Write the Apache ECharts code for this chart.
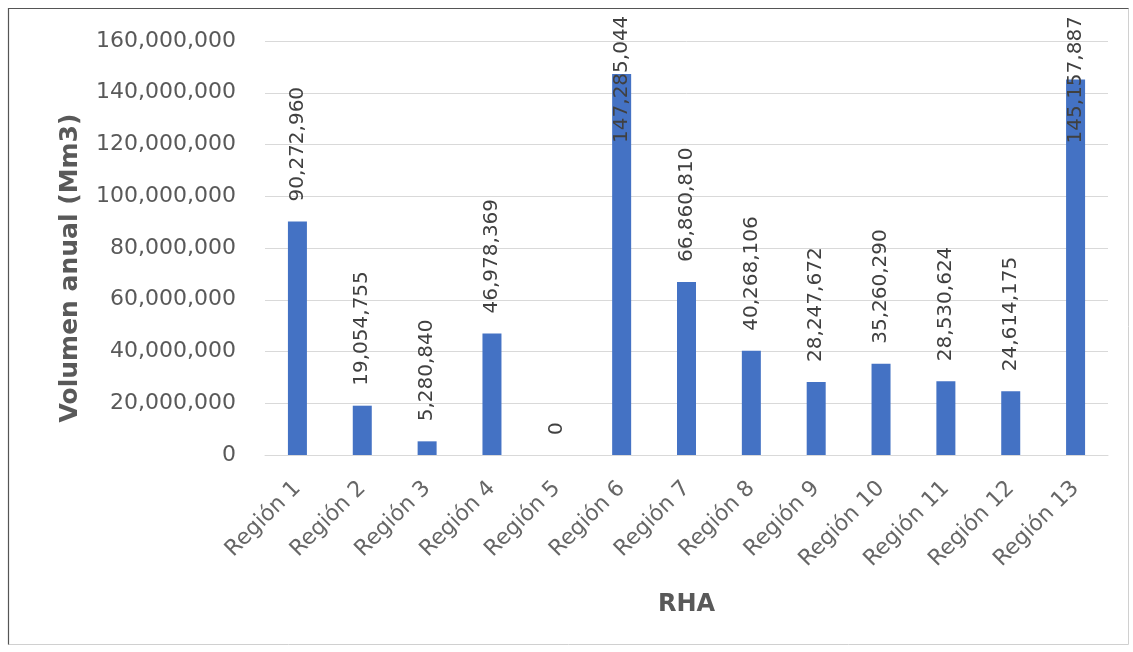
<!DOCTYPE html>
<html>
<head>
<meta charset="utf-8">
<title>Volumen anual por RHA</title>
<script src="https://cdn.jsdelivr.net/npm/echarts@6/dist/echarts.min.js"></script>
<style>
  html, body { margin: 0; padding: 0; background: #ffffff; }
  #chart { width: 1133px; height: 652px; }
</style>
</head>
<body>
<div id="chart"></div>
<script>
// Regiones hidrológico-administrativas (RHA) y su volumen anual
const regiones = ['Región 1', 'Región 2', 'Región 3', 'Región 4', 'Región 5', 'Región 6', 'Región 7',
  'Región 8', 'Región 9', 'Región 10', 'Región 11', 'Región 12', 'Región 13'];
const volumenAnual = [90272960, 19054755, 5280840, 46978369, 0, 147285044, 66860810,
  40268106, 28247672, 35260290, 28530624, 24614175, 145157887];

// Eje Y
const ejeMin = 0;
const ejeMax = 160000000;
const ejeIntervalo = 20000000;

// Etiquetas que no caben encima de la barra se dibujan dentro, desde arriba
const etiquetaDentro = { 'Región 6': 69, 'Región 13': 64 };

const fmt = v => Number(v).toLocaleString('en-US');
const fuente = 'DejaVu Sans';

const datos = volumenAnual.map((v, i) => {
  const item = { value: v };
  const d = etiquetaDentro[regiones[i]];
  if (d !== undefined) {
    item.label = { position: 'insideTop', distance: d };
  }
  return item;
});

const chart = echarts.init(document.getElementById('chart'), null, { renderer: 'canvas' });
chart.setOption({
  backgroundColor: '#ffffff',
  animation: false,
  grid: { left: 265, right: 25, top: 41, bottom: 197, containLabel: false },
  xAxis: {
    type: 'category',
    data: regiones,
    name: 'RHA',
    nameLocation: 'middle',
    nameGap: 138,
    nameTextStyle: { fontFamily: fuente, fontWeight: 'bold', fontSize: 24, color: '#595959' },
    axisLine: { lineStyle: { color: '#d9d9d9', width: 1 } },
    axisTick: { show: false },
    axisLabel: {
      rotate: 45,
      margin: 30,
      interval: 0,
      fontFamily: fuente,
      fontSize: 22,
      color: '#666666'
    }
  },
  yAxis: {
    type: 'value',
    min: ejeMin,
    max: ejeMax,
    interval: ejeIntervalo,
    axisLine: { show: false },
    axisTick: { show: false },
    splitLine: { lineStyle: { color: '#d9d9d9', width: 1 } },
    axisLabel: {
      margin: 29,
      fontFamily: fuente,
      fontSize: 22,
      color: '#595959',
      formatter: fmt
    }
  },
  series: [{
    type: 'bar',
    data: datos,
    barWidth: 19,
    itemStyle: { color: '#4472C4' },
    label: {
      show: true,
      position: 'top',
      distance: 20,
      rotate: 90,
      align: 'left',
      verticalAlign: 'middle',
      fontFamily: fuente,
      fontSize: 20,
      color: '#404040',
      formatter: p => fmt(p.value)
    }
  }],
  graphic: [
    {
      // título del eje Y
      type: 'text',
      x: 70,
      y: 268,
      rotation: Math.PI / 2,
      style: {
        text: 'Volumen anual (Mm3)',
        fontFamily: fuente,
        fontWeight: 'bold',
        fontSize: 25,
        fill: '#595959',
        align: 'center',
        verticalAlign: 'middle'
      },
      silent: true
    },
    {
      type: 'rect',
      shape: { x: 8.5, y: 8.5, width: 1120, height: 636 },
      style: { fill: null, stroke: '#d0d0d0', lineWidth: 1 },
      silent: true
    },
    {
      type: 'polyline',
      shape: { points: [[8.5, 644.5], [8.5, 8.5], [1128.5, 8.5]] },
      style: { fill: null, stroke: '#555555', lineWidth: 1.2 },
      silent: true
    }
  ]
});
</script>
</body>
</html>
